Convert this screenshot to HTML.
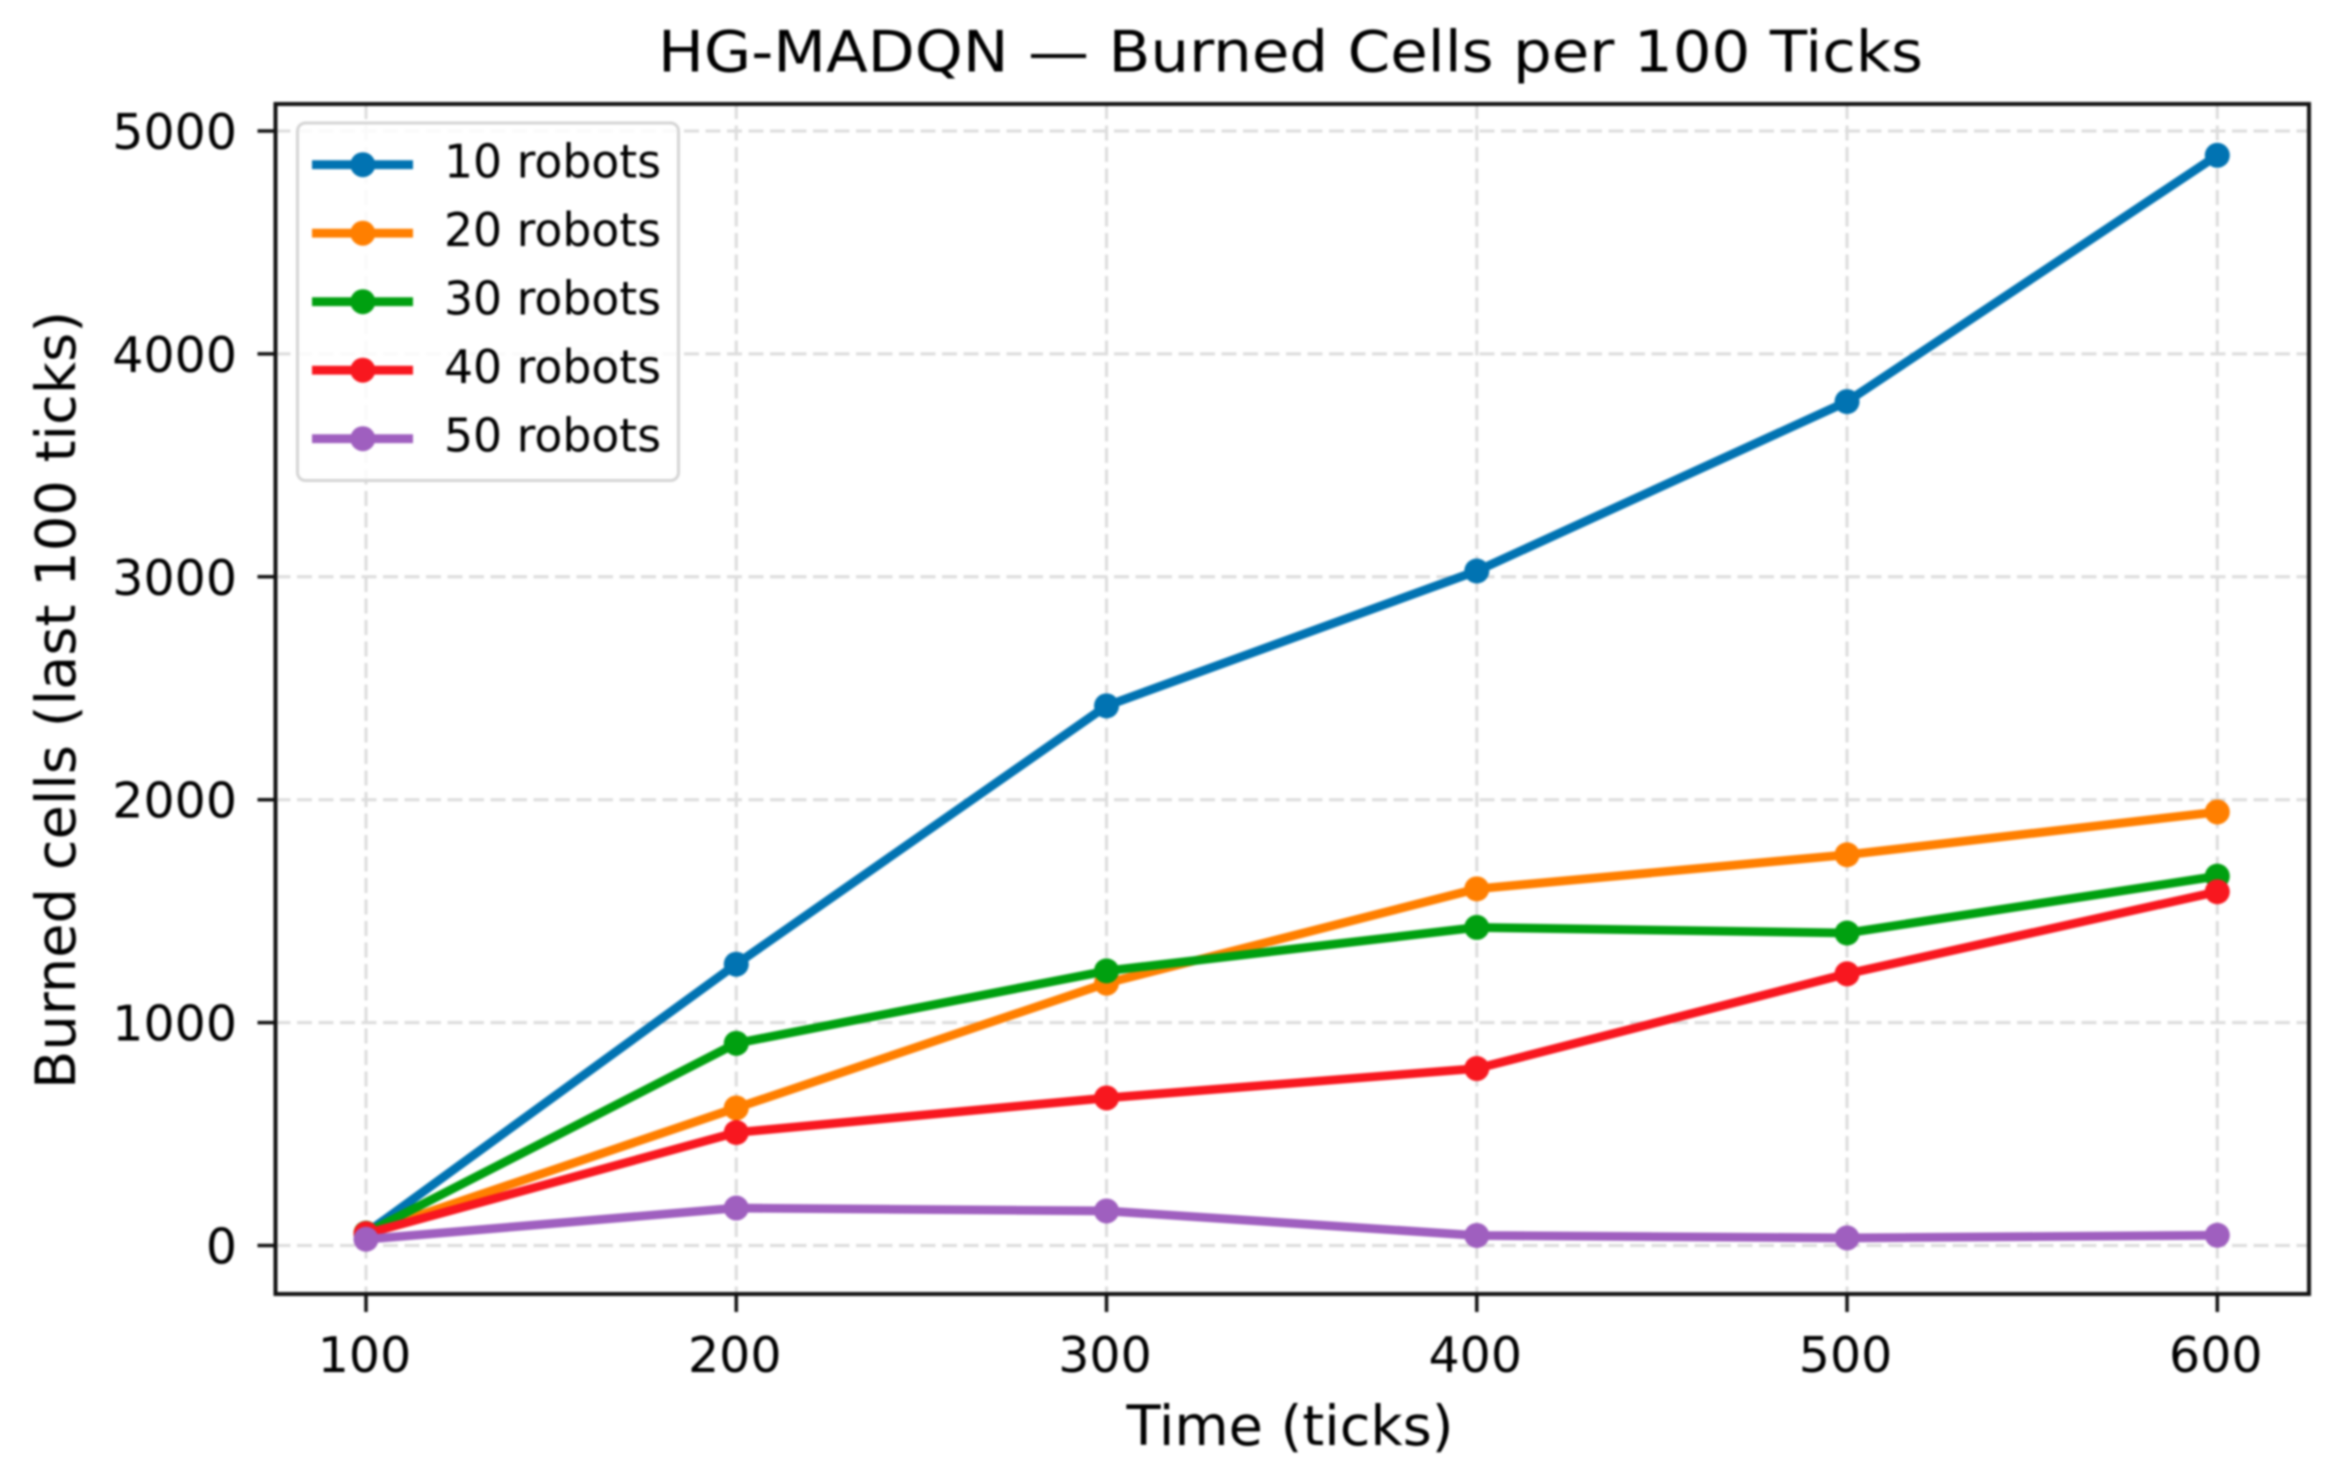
<!DOCTYPE html>
<html lang="en">
<head>
<meta charset="utf-8">
<title>HG-MADQN — Burned Cells per 100 Ticks</title>
<style>
  html, body { margin: 0; padding: 0; background: #fff; }
  body { width: 2339px; height: 1476px; overflow: hidden; }
  svg { display: block; filter: blur(1.1px); }
  text { font-family: "DejaVu Sans", "Liberation Sans", sans-serif; fill: #000; }
</style>
</head>
<body>
<svg id="chart" xmlns="http://www.w3.org/2000/svg" width="2339" height="1476" viewBox="0 0 2339 1476">
  <rect x="0" y="0" width="2339" height="1476" fill="#fff"/>
  <text x="1290.5" y="71.5" font-size="57" text-anchor="middle" textLength="1265" lengthAdjust="spacingAndGlyphs">HG-MADQN — Burned Cells per 100 Ticks</text>
  <text x="1290" y="1445" font-size="55.5" text-anchor="middle" textLength="327" lengthAdjust="spacingAndGlyphs">Time (ticks)</text>
  <text transform="translate(75 700) rotate(-90)" font-size="55.5" text-anchor="middle" textLength="778" lengthAdjust="spacingAndGlyphs">Burned cells (last 100 ticks)</text>
  <g id="grid"></g>
  <g id="series"></g>
  <g id="axes"></g>
  <g id="legend"></g>
</svg>
<script>
const times = [100, 200, 300, 400, 500, 600];
const seriesNames = ["10 robots", "20 robots", "30 robots", "40 robots", "50 robots"];
const robots10 = [55, 1262, 2421, 3026, 3786, 4891];
const robots20 = [55, 617, 1177, 1600, 1753, 1945];
const robots30 = [55, 907, 1232, 1427, 1402, 1657];
const robots40 = [53, 507, 662, 794, 1219, 1587];
const robots50 = [28, 168, 155, 45, 34, 46];
const xTickLabels = ["100", "200", "300", "400", "500", "600"];
const yTickLabels = ["0", "1000", "2000", "3000", "4000", "5000"];
const seriesColors = ["#0173b2", "#ff7f00", "#00a010", "#f8171f", "#9f5fbf"];

const allSeries = [robots10, robots20, robots30, robots40, robots50];
const svgNS = "http://www.w3.org/2000/svg";
const plot = { left: 275.5, right: 2309, top: 104, bottom: 1294 };

function xScale(v) { return 366 + (v - 100) * 3.7026; }
function yScale(v) { return 1245.5 - v * 0.2229; }

function make(tag, parent, attrs) {
  const el = document.createElementNS(svgNS, tag);
  for (const k in attrs) el.setAttribute(k, attrs[k]);
  parent.appendChild(el);
  return el;
}

const grid = document.getElementById("grid");
const axes = document.getElementById("axes");
const seriesGroup = document.getElementById("series");
const legend = document.getElementById("legend");

/* grid */
xTickLabels.forEach(function (label) {
  const x = xScale(Number(label));
  const line = make("line", grid, { x1: x, x2: x, y1: plot.top, y2: plot.bottom, stroke: "#dcdcdc", "stroke-width": 3, "stroke-dasharray": "15 6.5" });
  
  
});
yTickLabels.forEach(function (label) {
  const y = yScale(Number(label));
  const line = make("line", grid, { x1: plot.left, x2: plot.right, y1: y, y2: y, stroke: "#dcdcdc", "stroke-width": 3, "stroke-dasharray": "15 6.5" });
  
  
});

/* series */
allSeries.forEach(function (values, i) {
  const points = values.map(function (v, j) { return xScale(times[j]) + "," + yScale(v); }).join(" ");
  const path = make("polyline", seriesGroup, { points: points, fill: "none", stroke: seriesColors[i], "stroke-width": 8.8, "stroke-linejoin": "round", "stroke-linecap": "round" });
  
  
  values.forEach(function (v, j) {
    const dot = make("circle", seriesGroup, { cx: xScale(times[j]), cy: yScale(v), r: 12.5, fill: seriesColors[i] });
    
    
  });
});

/* frame */
const frame = make("rect", axes, { x: plot.left, y: plot.top, width: plot.right - plot.left, height: plot.bottom - plot.top, fill: "none", stroke: "#111", "stroke-width": 4 });



/* ticks */
xTickLabels.forEach(function (label) {
  const x = xScale(Number(label));
  const tick = make("line", axes, { x1: x, x2: x, y1: plot.bottom, y2: plot.bottom + 18, stroke: "#111", "stroke-width": 3.5 });
  
  
  const text = make("text", axes, { x: x - 1.5, y: 1372, "font-size": 49, "text-anchor": "middle" });
  
  
  text.textContent = label;
});
yTickLabels.forEach(function (label) {
  const y = yScale(Number(label));
  const tick = make("line", axes, { x1: plot.left - 18, x2: plot.left, y1: y, y2: y, stroke: "#111", "stroke-width": 3.5 });
  
  
  const text = make("text", axes, { x: 237, y: y + 18, "font-size": 49, "text-anchor": "end" });
  
  
  text.textContent = label;
});

/* legend */
const legendBox = make("rect", legend, { x: 297.5, y: 123, width: 381, height: 357.5, rx: 8, ry: 8, fill: "#fff", "fill-opacity": 0.85, stroke: "#d4d4d4", "stroke-width": 3 });


seriesNames.forEach(function (name, i) {
  const y = 164.7 + i * 68.5;
  const handle = make("line", legend, { x1: 312, x2: 413, y1: y, y2: y, stroke: seriesColors[i], "stroke-width": 8.8 });
  
  
  const marker = make("circle", legend, { cx: 362.8, cy: y, r: 12.5, fill: seriesColors[i] });
  
  
  const text = make("text", legend, { x: 444, y: y + 13, "font-size": 46, textLength: 217, lengthAdjust: "spacingAndGlyphs" });
  
  
  text.textContent = name;
});
</script>
</body>
</html>
